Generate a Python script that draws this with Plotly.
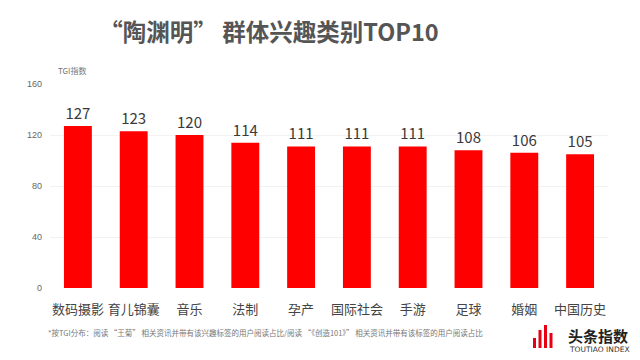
import plotly.graph_objects as go

categories = ["数码摄影", "育儿锦囊", "音乐", "法制", "孕产", "国际社会", "手游", "足球", "婚姻", "中国历史"]
values = [127, 123, 120, 114, 111, 111, 111, 108, 106, 105]
tick_vals = [0, 40, 80, 120, 160]

# page body has an 8px offset; work in screen coordinates and shift
OFF = 8
W, H = 640 - OFF, 360 - OFF
PLOT_L, PLOT_R, PLOT_T, PLOT_B = 50, 608, 84, 288
L, R = PLOT_L - OFF, W - (PLOT_R - OFF)
T, B = PLOT_T - OFF, H - (PLOT_B - OFF)
PW, PH = W - L - R, H - T - B


def px(x):
    return (x - OFF - L) / PW


def py(y):
    return (H - B - (y - OFF)) / PH


fig = go.Figure()
fig.add_trace(go.Bar(
    x=categories, y=values,
    marker=dict(color="#ff0000", line=dict(width=0)),
    text=[str(v) for v in values], textposition="outside",
    textfont=dict(family="Noto Sans CJK SC", size=15, color="#3a3a3a"),
    cliponaxis=False,
))

fig.update_layout(
    width=W, height=H,
    margin=dict(l=L, r=R, t=T, b=B, autoexpand=False),
    paper_bgcolor="white", plot_bgcolor="white",
    bargap=0.5,
    showlegend=False,
    font=dict(family="Noto Sans CJK SC"),
    title=dict(text="<b>“陶渊明” 群体兴趣类别TOP10</b>", x=(269 - OFF) / W, xanchor="center",
               y=1 - (33 - OFF) / H, yanchor="middle",
               font=dict(family="Noto Sans CJK SC", size=23.5, color="#555555")),
    xaxis=dict(showline=False, ticks="", showgrid=False, automargin=False,
               tickfont=dict(family="Noto Sans CJK SC", size=13, color="#444444"),
               ticklabelstandoff=12),
    yaxis=dict(range=[0, 160], tickvals=tick_vals, showline=False, zeroline=False,
               showgrid=True, gridcolor="#f2f2f2", gridwidth=1, automargin=False,
               tickfont=dict(family="Liberation Sans", size=9, color="#666666"),
               ticklabelstandoff=7),
)

fig.add_annotation(text="TGI指数", xref="paper", yref="paper", x=px(57), y=py(70),
                   xanchor="left", yanchor="middle", showarrow=False, borderpad=0,
                   font=dict(family="Noto Sans CJK SC", size=8, color="#777777"))

fig.add_annotation(text="*按TGI分布：阅读 “王菊” 相关资讯并带有该兴趣标签的用户阅读占比/阅读 “《创造101》” 相关资讯并带有该标签的用户阅读占比",
                   xref="paper", yref="paper", x=px(47), y=py(332),
                   xanchor="left", yanchor="middle", showarrow=False, borderpad=0,
                   font=dict(family="Noto Sans CJK SC", size=7.5, color="#777777"))

# logo
fig.add_annotation(text="<b>头条指数</b>", xref="paper", yref="paper",
                   x=px(567), y=py(335), xanchor="left", yanchor="middle", showarrow=False, borderpad=0,
                   font=dict(family="Noto Sans CJK SC", size=15, color="#222222"))
fig.add_annotation(text="TOUTIAO INDEX", xref="paper", yref="paper",
                   x=px(568), y=py(349), xanchor="left", yanchor="middle", showarrow=False, borderpad=0,
                   font=dict(family="DejaVu Sans", size=7.5, color="#333333"))
for x0, y0 in [(533, 338), (538.5, 330), (544, 325), (549.5, 333)]:
    fig.add_shape(type="rect", xref="paper", yref="paper",
                  x0=px(x0), x1=px(x0 + 3), y0=py(y0), y1=py(348),
                  fillcolor="#e60012", line=dict(width=0))

fig.write_html("out.html")
